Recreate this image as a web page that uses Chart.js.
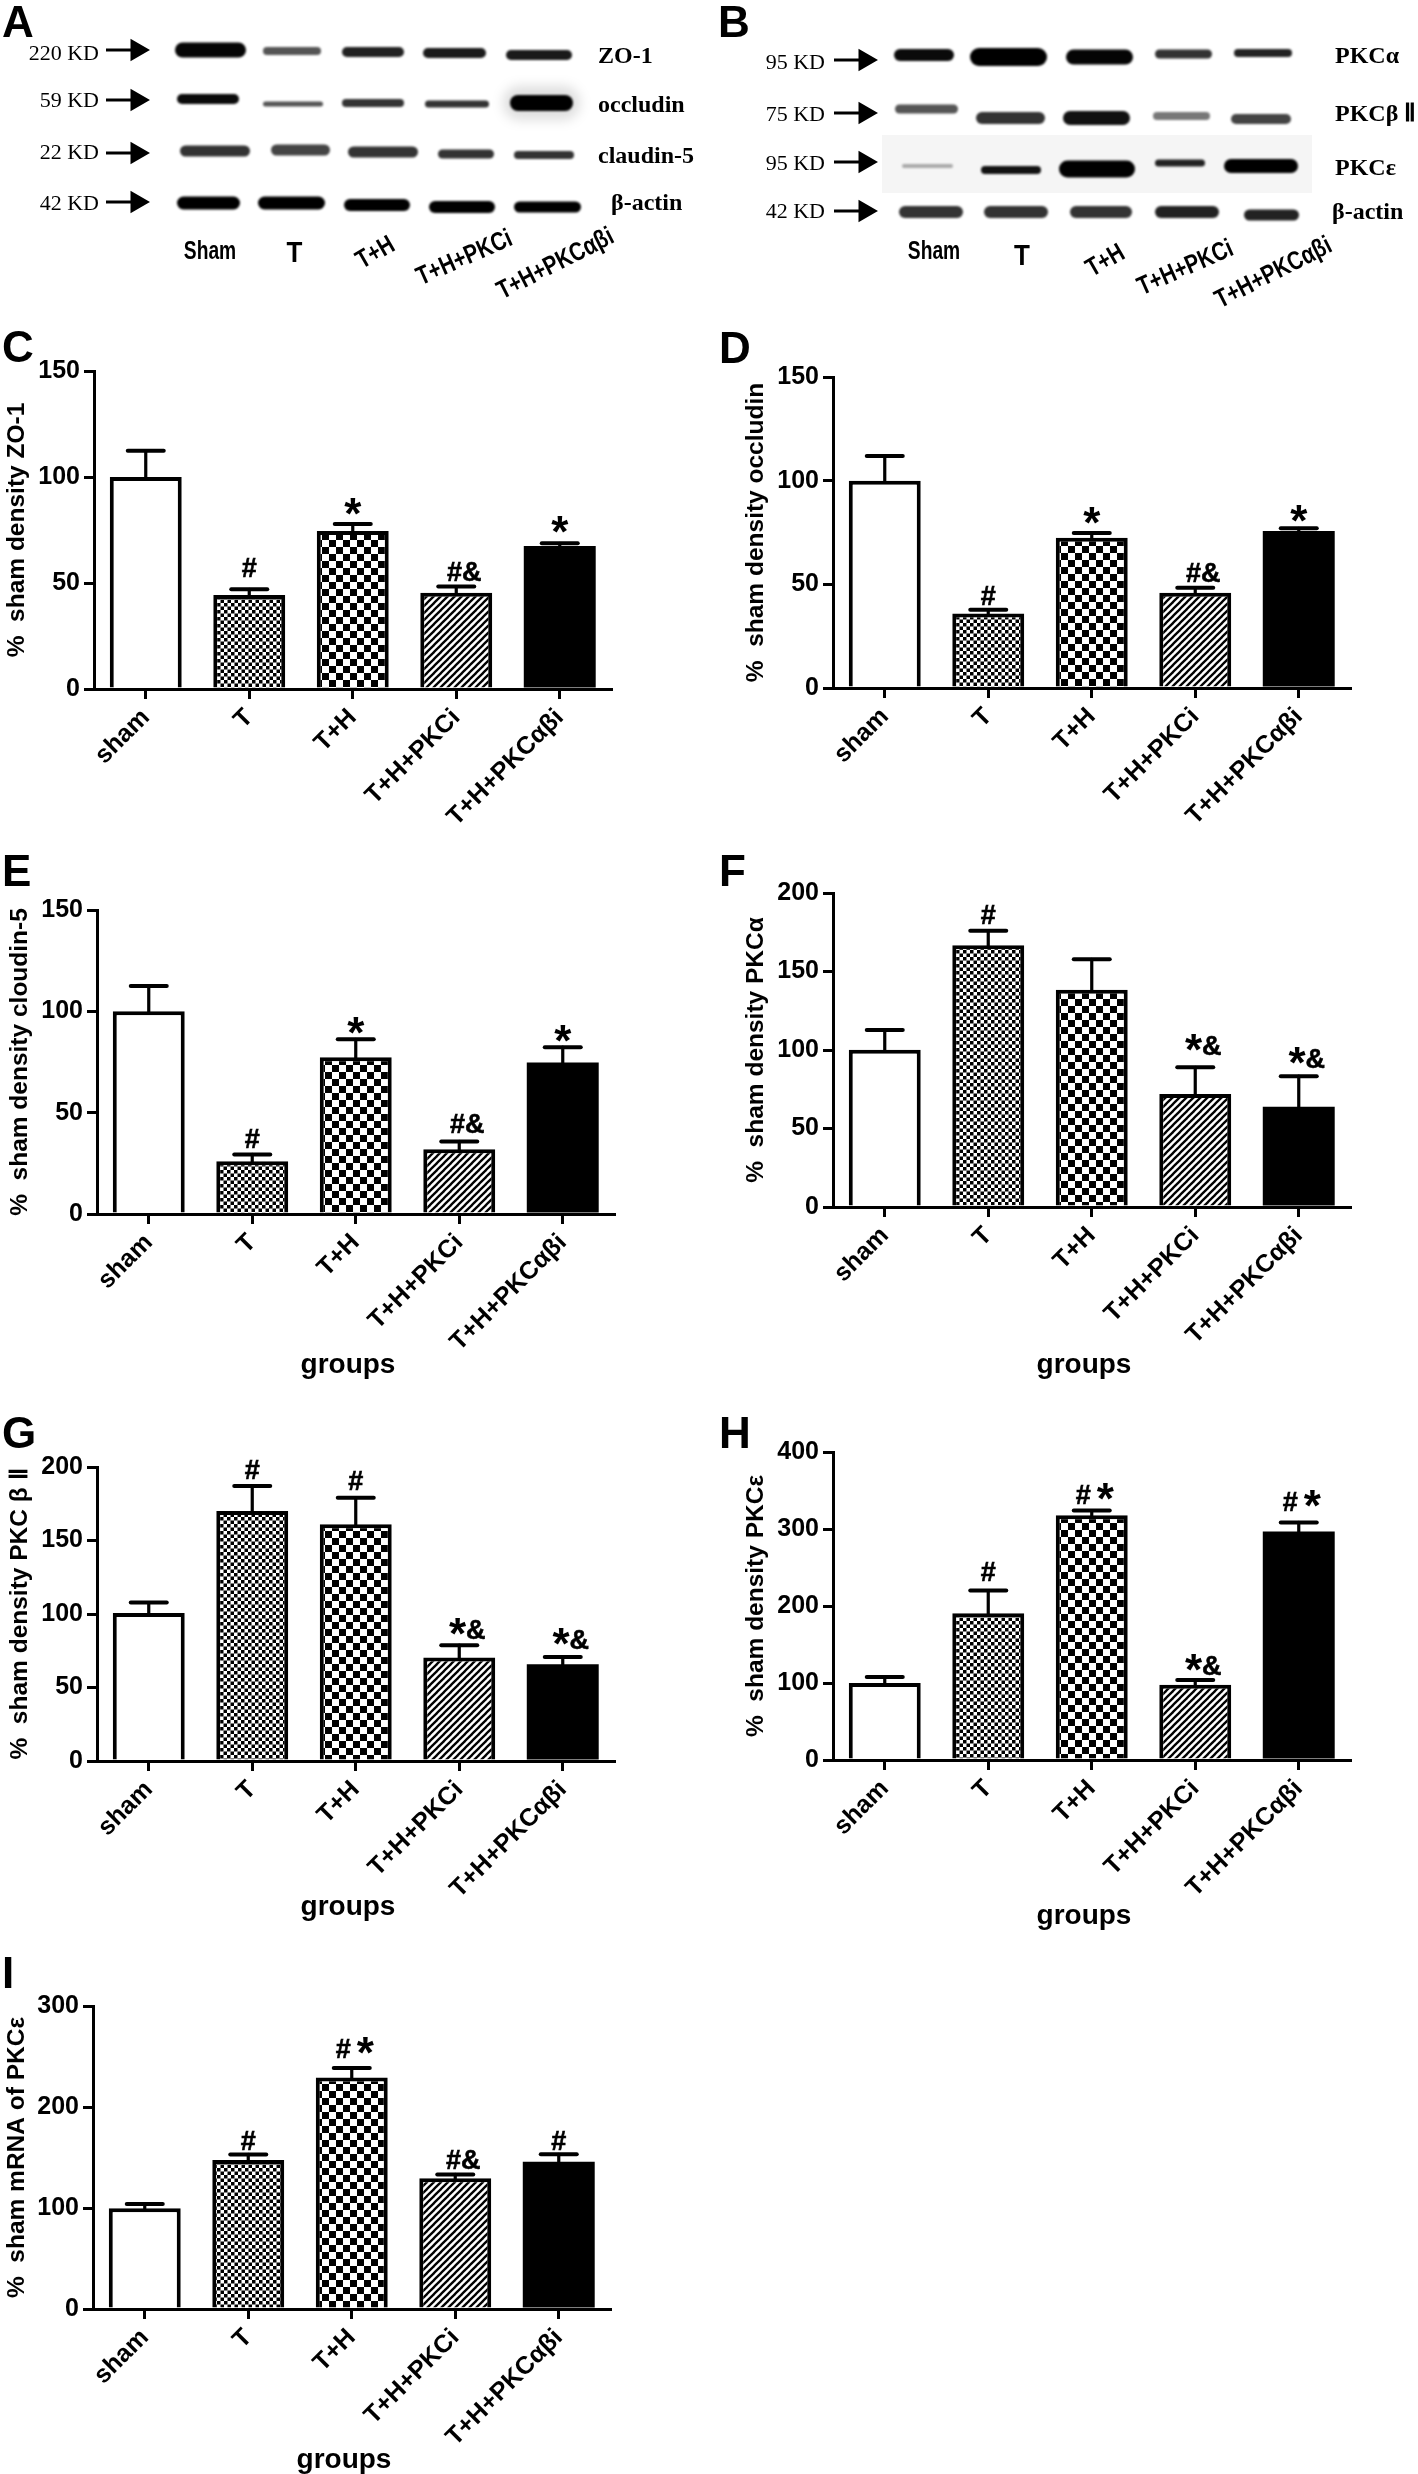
<!DOCTYPE html>
<html><head><meta charset="utf-8">
<script src="https://cdn.jsdelivr.net/npm/chart.js@4"></script>
<style>
html,body{margin:0;padding:0;background:#fff;width:1418px;height:2474px;overflow:hidden}
canvas{position:absolute}
.t{position:absolute;color:#000;white-space:nowrap;line-height:1}
.letter{font:bold 44px "Liberation Sans";}
.kd{font:22px "Liberation Serif";transform:translate(-100%,-50%)}
.prot{font:bold 24px "Liberation Serif";transform:translateY(-50%)}
.lane{font:bold 26px "Liberation Sans";}
</style></head><body>
<script>
// ---------- categories ----------
const categories = ['sham','T','T+H','T+H+PKCi','T+H+PKCαβi'];
const laneLabels = ['Sham','T','T+H','T+H+PKCi','T+H+PKCαβi'];

// ---------- panel values (mean, top of error bar, significance marks, height of the mark) ----------
const valuesC=[100,44.3,74.5,45.4,67.5], errC=[112.4,47,77.8,48.3,68.7], marksC=['','#','*','#&','*'], markAtC=[0,52.7,82,51,73.7];
const valuesD=[100,35.9,72.5,46,75.7],  errD=[111.9,37.8,74.8,48.4,77], marksD=['','#','*','#&','*'], markAtD=[0,39.9,79.3,51.1,80];
const valuesE=[100,26,77.3,31.9,74.8],  errE=[112.5,29.4,86.2,35.8,82.3], marksE=['','#','*','#&','*'], markAtE=[0,32.8,89,39.8,85];
const valuesF=[100.2,166.7,138.3,72,63.9], errF=[112.8,176,157.8,89,83.3], marksF=['','#','','*&','*&'], markAtF=[0,180.3,0,96.5,88.5];
const valuesG=[100.6,170,161,70.4,65.8], errG=[107.8,187,179,78.8,70.7], marksG=['','#','#','*&','*&'], markAtG=[0,191.9,184.2,82.7,76.5];
const valuesH=[100,190.6,317.7,97.8,296.7], errH=[107.9,220,324,103.8,308.6], marksH=['','#','#*','*&','#*'], markAtH=[0,232,333,110.6,323];
const valuesI=[99.7,147.5,229.2,129.5,145.7], errI=[103.9,153,238.6,133.2,153.2], marksI=['','#','#*','#&','#'], markAtI=[0,157.7,249,139,157.7];

// ---------- western blot bands: row centre per lane, lane start/end, band thickness, darkness ----------
const blotA_y0=[50,51,52,53,55], blotA_x0=[175,263,342,423,506], blotA_x1=[246,321,404,486,572], blotA_w0=[15,8,10,10,10], blotA_c0=['#050505','#555','#222','#1a1a1a','#1a1a1a'];
const blotA_y1=[99,104,103,104,103], blotA_x2=[177,263,342,425,510], blotA_x3=[239,323,404,489,573], blotA_w1=[10,5,8,7,16], blotA_c1=['#0a0a0a','#555','#333','#333','#000'];
const blotA_y2=[151,150,152,154,155], blotA_x4=[180,271,348,438,514], blotA_x5=[250,330,418,494,574], blotA_w2=[11,11,11,9,8], blotA_c2=['#333','#444','#333','#333','#333'];
const blotA_y3=[203,203,205,207,207], blotA_x6=[177,258,344,429,514], blotA_x7=[240,325,410,495,581], blotA_w3=[13,13,12,12,11], blotA_c3=['#000','#000','#000','#000','#000'];
const blotB_y0=[55,57,57,54,53], blotB_x0=[894,970,1066,1155,1234], blotB_x1=[954,1047,1133,1212,1292], blotB_w0=[12,18,15,9,8], blotB_c0=['#0a0a0a','#000','#050505','#333','#222'];
const blotB_y1=[109,118,118,116,119], blotB_x2=[895,976,1063,1153,1231], blotB_x3=[958,1045,1130,1210,1291], blotB_w1=[9,12,14,8,10], blotB_c1=['#555','#333','#111','#777','#444'];
const blotB_y2=[166,170,169,163,166], blotB_x4=[902,981,1059,1155,1224], blotB_x5=[953,1041,1135,1205,1298], blotB_w2=[4,8,17,7,14], blotB_c2=['#aaa','#111','#000','#222','#000'];
const blotB_y3=[212,212,212,212,215], blotB_x6=[899,984,1070,1155,1244], blotB_x7=[963,1048,1132,1219,1299], blotB_w3=[12,12,12,12,11], blotB_c3=['#333','#333','#333','#222','#222'];

// ---------- blot labels ----------
const kdA=['220 KD','59 KD','22 KD','42 KD'], kdAy=[53,100,152,203];
const protA=['ZO-1','occludin','claudin-5','β-actin'], protAy=[55,104,155,202];
const kdB=['95 KD','75 KD','95 KD','42 KD'], kdBy=[62,114,163,211];
const protB=['PKCα','PKCβ Ⅱ','PKCε','β-actin'], protBy=[55,113,167,211];

const FONT='"Liberation Sans"';
const patternCtx=document.createElement('canvas').getContext('2d');
function tile(size,draw){const c=document.createElement('canvas');c.width=c.height=size;const g=c.getContext('2d');g.fillStyle='#fff';g.fillRect(0,0,size,size);g.fillStyle='#000';g.strokeStyle='#000';draw(g,size);return patternCtx.createPattern(c,'repeat');}
const check=(cell)=>tile(cell*2,(g)=>{g.fillRect(0,0,cell,cell);g.fillRect(cell,cell,cell,cell);});
const hatch=tile(7,(g,s)=>{g.lineWidth=2.3;for(let k=-1;k<=1;k++){g.beginPath();g.moveTo(k*s-1,s+1);g.lineTo(k*s+s+1,-1);g.stroke();}});
const fills=['#fff',check(3.5),check(7),hatch,'#000'];

const errorBars={id:'errorBars',afterDatasetsDraw(chart,a,o){
  const g=chart.ctx,xs=chart.scales.x,ys=chart.scales.y;g.save();g.strokeStyle='#000';g.lineCap='round';
  o.tops.forEach((v,i)=>{const x=xs.getPixelForValue(i),y=ys.getPixelForValue(v),b=ys.getPixelForValue(chart.data.datasets[0].data[i]);
    g.lineWidth=3.2;g.beginPath();g.moveTo(x,b);g.lineTo(x,y);g.stroke();
    g.lineWidth=4;g.beginPath();g.moveTo(x-18,y);g.lineTo(x+18,y);g.stroke();});
  g.restore();}};
const sigMarks={id:'sigMarks',afterDatasetsDraw(chart,a,o){
  const g=chart.ctx,xs=chart.scales.x,ys=chart.scales.y;g.save();g.fillStyle='#000';g.strokeStyle='#000';g.lineWidth=0.6;g.textAlign='left';g.textBaseline='alphabetic';
  const fnt=c=>`bold ${c==='*'?44:27}px ${FONT}`;
  o.marks.forEach((m,i)=>{if(!m)return;const chars=[...m];let w=0;chars.forEach((c,k)=>{g.font=fnt(c);w+=g.measureText(c).width+(k&&m==='#*'?6:0);});
    let x=xs.getPixelForValue(i)-w/2+(m.includes('&')?8:(m==='#*'?3:0));const y=ys.getPixelForValue(o.at[i]);
    const starDrop=m==='*'?14:10;
    chars.forEach((c,k)=>{g.font=fnt(c);if(k&&m==='#*')x+=6;const yy=c==='*'?y+starDrop:y;g.fillText(c,x,yy);if(c!=='*')g.strokeText(c,x,yy);x+=g.measureText(c).width;});});
  g.restore();}};
const softBands={id:'softBands',
  beforeDatasetDraw(chart,a){const d=chart.data.datasets[a.index];if(d.soft){chart.ctx.save();chart.ctx.filter=`blur(${d.soft}px)`;}},
  afterDatasetDraw(chart,a){if(chart.data.datasets[a.index].soft)chart.ctx.restore();}};

function makeCanvas(left,top,w,h){const c=document.createElement('canvas');c.width=w;c.height=h;c.style.cssText=`left:${left}px;top:${top}px;width:${w}px;height:${h}px`;document.body.appendChild(c);return c;}
function text(cls,str,x,y,extra){const d=document.createElement('div');d.className='t '+cls;d.textContent=str;d.style.left=x+'px';d.style.top=y+'px';if(extra)d.style.cssText+=extra;document.body.appendChild(d);return d;}

// ---------- bar panels ----------
const panels=[
 {v:valuesC,e:errC,m:marksC,a:markAtC,max:150,step:50,title:'%  sham density ZO-1',ax:94,top:371,zero:689},
 {v:valuesD,e:errD,m:marksD,a:markAtD,max:150,step:50,title:'%  sham density occludin',ax:833,top:377,zero:688},
 {v:valuesE,e:errE,m:marksE,a:markAtE,max:150,step:50,title:'%  sham density cloudin-5',ax:97,top:910,zero:1214,g:1365},
 {v:valuesF,e:errF,m:marksF,a:markAtF,max:200,step:50,title:'%  sham density PKCα',ax:833,top:893,zero:1207,g:1365},
 {v:valuesG,e:errG,m:marksG,a:markAtG,max:200,step:50,title:'%  sham density PKC β Ⅱ',ax:97,top:1467,zero:1761,g:1907},
 {v:valuesH,e:errH,m:marksH,a:markAtH,max:400,step:100,title:'%  sham density PKCε',ax:833,top:1452,zero:1760,g:1916},
 {v:valuesI,e:errI,m:marksI,a:markAtI,max:300,step:100,title:'%  sham mRNA of PKCε',ax:93,top:2006,zero:2309,g:2460}
];
const xH=175, plotW=517.5;
panels.forEach(p=>{
  const left=Math.max(p.ax-94,0), yW=p.ax-left, W=yW+plotW+12.5, H=20+p.zero-p.top+xH;
  const c=makeCanvas(left,p.top-20,Math.ceil(W),H);
  const groupsPad=p.g?Math.max(xH-(p.g-p.zero)-14,0):0;
  new Chart(c,{type:'bar',
    data:{labels:categories,datasets:[{data:p.v,backgroundColor:fills,borderColor:'#000',borderWidth:[4,4,4,4,0],borderSkipped:'bottom',barPercentage:1,categoryPercentage:0.695}]},
    plugins:[errorBars,sigMarks],
    options:{responsive:false,animation:false,devicePixelRatio:1,
      layout:{padding:{top:20,right:Math.ceil(W)-yW-plotW,left:0,bottom:0}},
      plugins:{legend:{display:false},tooltip:{enabled:false},errorBars:{tops:p.e},sigMarks:{marks:p.m,at:p.a}},
      scales:{
        x:{z:1,offset:true,afterFit(s){s.height=xH;},
           border:{display:true,width:3,color:'#000'},
           grid:{display:true,offset:false,drawOnChartArea:false,lineWidth:3,color:'#000',tickLength:10,tickColor:'#000'},
           ticks:{autoSkip:false,minRotation:45,maxRotation:45,color:'#000',padding:4,font:{family:FONT,weight:'bold',size:25}},
           title:{display:!!p.g,text:'groups  ',color:'#000',font:{family:FONT,weight:'bold',size:28,lineHeight:1},padding:{top:groupsPad,bottom:groupsPad}}},
        y:{min:0,max:p.max,afterFit(s){s.width=yW;},
           border:{display:true,width:3,color:'#000'},
           grid:{display:true,drawOnChartArea:false,lineWidth:3,color:'#000',tickLength:10,tickColor:'#000'},
           ticks:{stepSize:p.step,color:'#000',padding:4,font:{family:FONT,weight:'bold',size:25}},
           title:{display:true,text:p.title,color:'#000',font:{family:FONT,weight:'bold',size:24.5,lineHeight:1},padding:{top:5,bottom:5}}}
      }}});
});

// ---------- blot panels ----------
function bandSets(ys,x0,x1,ws,cs){return ys.map((y,i)=>({data:[{x:x0[i]+ws[i]/2,y:y},{x:x1[i]-ws[i]/2,y:y}],borderColor:cs[i],borderWidth:ws[i],borderCapStyle:'round',pointRadius:0,soft:1.3}));}
function arrowSet(x0,x1,y){return {data:[{x:x0,y:y},{x:x1,y:y}],borderColor:'#000',borderWidth:3,pointRadius:[0,10],pointStyle:'triangle',pointRotation:[90,90],pointBackgroundColor:'#000',pointBorderColor:'#000'};}
function blot(left,w,sets){
  const c=makeCanvas(left,0,w,320);
  new Chart(c,{type:'line',data:{datasets:sets},plugins:[softBands],
    options:{responsive:false,animation:false,devicePixelRatio:1,layout:{padding:0,autoPadding:false},parsing:false,
      plugins:{legend:{display:false},tooltip:{enabled:false}},
      scales:{x:{type:'linear',min:left,max:left+w,display:false},y:{type:'linear',min:0,max:320,reverse:true,display:false}}}});
}
const arrowsAy=[50,100,153,202], arrowsBy=[60,113,162,211];
const haloA={data:[{x:520,y:103},{x:563,y:103}],borderColor:'rgba(0,0,0,0.13)',borderWidth:34,borderCapStyle:'round',pointRadius:0,soft:6};
const panelBGround={data:[{x:882,y:164},{x:1312,y:164}],borderColor:'#f5f5f5',borderWidth:58,borderCapStyle:'butt',pointRadius:0};
blot(0,710,[
  ...bandSets(blotA_y0,blotA_x0,blotA_x1,blotA_w0,blotA_c0),
  ...bandSets(blotA_y1,blotA_x2,blotA_x3,blotA_w1,blotA_c1),
  ...bandSets(blotA_y2,blotA_x4,blotA_x5,blotA_w2,blotA_c2),
  ...bandSets(blotA_y3,blotA_x6,blotA_x7,blotA_w3,blotA_c3),
  ...arrowsAy.map(y=>arrowSet(106,137,y)),haloA]);
blot(700,718,[
  ...bandSets(blotB_y0,blotB_x0,blotB_x1,blotB_w0,blotB_c0),
  ...bandSets(blotB_y1,blotB_x2,blotB_x3,blotB_w1,blotB_c1),
  ...bandSets(blotB_y2,blotB_x4,blotB_x5,blotB_w2,blotB_c2),
  ...bandSets(blotB_y3,blotB_x6,blotB_x7,blotB_w3,blotB_c3),
  ...arrowsBy.map(y=>arrowSet(834,865,y)),panelBGround]);

// ---------- text over the blots ----------
kdA.forEach((s,i)=>text('kd',s,99,kdAy[i]));
kdB.forEach((s,i)=>text('kd',s,825,kdBy[i]));
[598,598,598,611].forEach((x,i)=>text('prot',protA[i],x,protAy[i]));
[1335,1335,1335,1332].forEach((x,i)=>text('prot',protB[i],x,protBy[i]));
function lanes(xs,ys,rot){laneLabels.forEach((s,i)=>text('lane',s,xs[i],ys[i],`transform:translate(-50%,-50%) rotate(${rot[i]}deg) scale(${i==0?0.74:(i==1?1:0.8)},${i==1?1.15:1})`));}
lanes([210,294.5,375,464,555],[250,252,252,257,263],[0,0,-30,-24,-27]);
lanes([934,1022,1105,1185,1273],[250,255,260,267,272],[0,0,-30,-24,-27]);

// ---------- panel letters ----------
[['A',2,-3],['B',718,-3],['C',2,322],['D',719,323],['E',2,846],['F',719,846],['G',2,1408],['H',719,1408],['I',2,1948]]
  .forEach(([s,x,y])=>text('letter',s,x,y));
</script>
</body></html>
